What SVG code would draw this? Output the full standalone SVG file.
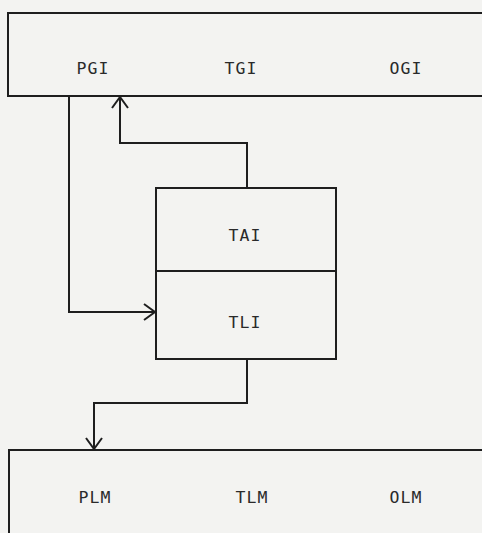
<svg xmlns="http://www.w3.org/2000/svg" width="482" height="533" viewBox="0 0 482 533">
<defs>
<style>
.box{fill:none;stroke:#1e1e1e;stroke-width:2}
.lbl{font-family:"DejaVu Sans Mono","Liberation Mono",monospace;font-size:16.5px;fill:#2a2a2a;text-anchor:middle;letter-spacing:1px}
.con{fill:none;stroke:#1e1e1e;stroke-width:2}
</style>
<marker id="ah" viewBox="0 0 13 18" refX="12" refY="9" markerWidth="13" markerHeight="18" markerUnits="userSpaceOnUse" orient="auto">
<path d="M1,1 L12,9 L1,17" fill="none" stroke="#1e1e1e" stroke-width="2"/>
</marker>
</defs>
<rect width="482" height="533" fill="#f3f3f1"/>
<g id="gi">
<path class="box" d="M490,13 H8 V96 H490"/>
<text class="lbl" x="93" y="74">PGI</text>
<text class="lbl" x="241" y="74">TGI</text>
<text class="lbl" x="406" y="74">OGI</text>
</g>
<g id="tai">
<rect class="box" x="156" y="188" width="180" height="83"/>
<text class="lbl" x="245" y="241">TAI</text>
</g>
<g id="tli">
<rect class="box" x="156" y="271" width="180" height="88"/>
<text class="lbl" x="245" y="328">TLI</text>
</g>
<g id="lm">
<path class="box" d="M490,450 H9 V540"/>
<text class="lbl" x="95" y="503">PLM</text>
<text class="lbl" x="252" y="503">TLM</text>
<text class="lbl" x="406" y="503">OLM</text>
</g>
<g id="connectors">
<path class="con" d="M69,96 V312 H155" marker-end="url(#ah)"/>
<path class="con" d="M247,188 V143 H120 V97" marker-end="url(#ah)"/>
<path class="con" d="M247,359 V403 H94 V449" marker-end="url(#ah)"/>
</g>
</svg>
